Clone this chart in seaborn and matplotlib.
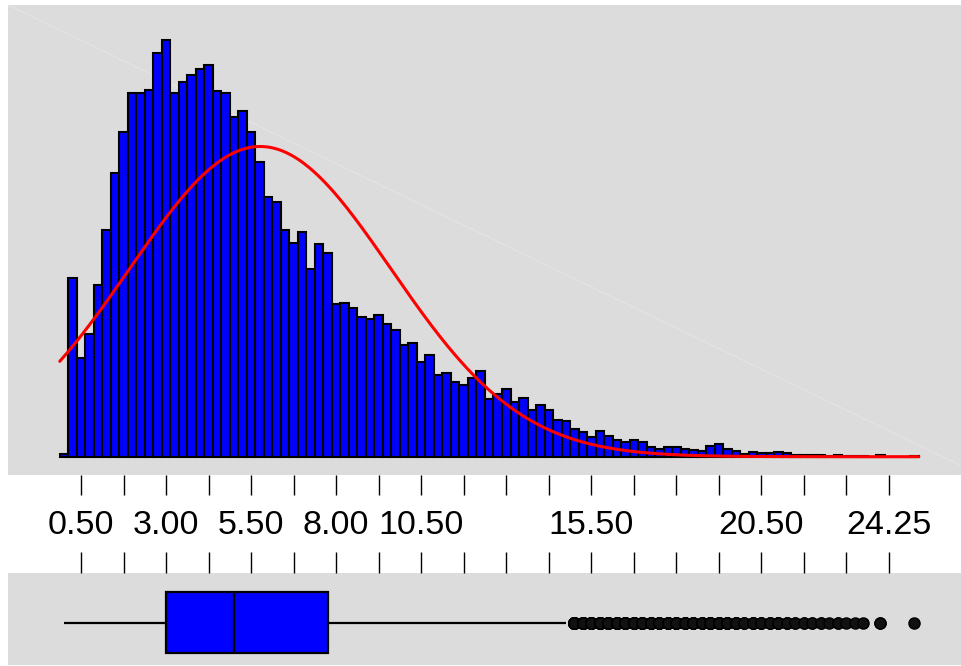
import numpy as np
import pandas as pd
import seaborn as sns
import matplotlib
matplotlib.use("Agg")
import matplotlib.pyplot as plt

# ---- data ----
bin_width = 0.25
# bin centres 0.00, 0.25, ..., 25.00
bin_centers = np.round(np.arange(0, 25.0 + 1e-9, bin_width), 2)
counts = [
    3,
    179, 99, 123, 172, 227, 284, 325, 364, 364, 367,
    404, 417, 364, 375, 382, 388, 392, 366, 364, 340,
    346, 325, 295, 260, 255, 227, 214, 225, 188, 213,
    204, 153, 154, 149, 140, 138, 142, 133, 127, 112,
    114, 95, 102, 82, 84, 75, 72, 79, 86, 58,
    63, 68, 55, 59, 47, 52, 47, 37, 36, 28,
    25, 20, 26, 21, 17, 15, 17, 15, 10, 8,
    10, 10, 8, 7, 6, 11, 13, 8, 6, 3,
    5, 4, 4, 5, 4, 2, 2, 2, 2, 1,
    2, 1, 1, 1, 0, 2, 0, 0, 0, 1,
]
tick_values = [0.50, 1.75, 3.00, 4.25, 5.50, 6.75, 8.00, 9.25, 10.50, 11.75,
               13.00, 14.25, 15.50, 16.75, 18.00, 19.25, 20.50, 21.75, 23.00, 24.25]
tick_labels = ["0.50", "", "3.00", "", "5.50", "", "8.00", "", "10.50", "",
               "", "", "15.50", "", "", "", "20.50", "", "", "24.25"]

df = pd.DataFrame({"value": bin_centers, "count": counts})
sample = np.repeat(df["value"].to_numpy(), df["count"].to_numpy())
lo_edge = float(bin_centers[0] - bin_width / 2)
hi_edge = float(bin_centers[-1] + bin_width / 2)

# ---- style ----
sns.set_theme(style="white")
plt.rcParams["font.family"] = ["Liberation Sans", "DejaVu Sans"]
panel_bg = "#DCDCDC"

W, H = 961, 666
fig = plt.figure(figsize=(W / 100, H / 100), dpi=100)
fig.patch.set_facecolor("white")
ax1 = fig.add_axes([8 / W, (H - 475) / H, (W - 8) / W, 470 / H])
ax2 = fig.add_axes([8 / W, 1 / H, (W - 8) / W, 92 / H])
xlim = (-1.646, 26.367)

# ---- histogram panel ----
ax1.set_facecolor(panel_bg)
sns.histplot(data=df, x="value", weights="count", binwidth=bin_width,
             binrange=(lo_edge, hi_edge), ax=ax1,
             color="blue", edgecolor="black", linewidth=1.5, alpha=1)
n = sample.size
mu, sd = sample.mean(), sample.std()
xs = np.linspace(lo_edge, hi_edge, 500)
ys = n * bin_width * np.exp(-0.5 * ((xs - mu) / sd) ** 2) / (sd * np.sqrt(2 * np.pi))
sns.lineplot(x=xs, y=ys, ax=ax1, color="red", linewidth=2.2)
ax1.plot([0, 1], [1, 0.02], transform=ax1.transAxes, color="white", lw=0.5,
         alpha=0.35, zorder=0.5)
ax1.set_xlim(*xlim)
ax1.set_ylim(-18.3, 451.7)
ax1.set_xticks(tick_values)
ax1.set_xticklabels(tick_labels)
ax1.set_yticks([])
ax1.set_xlabel("")
ax1.set_ylabel("")
ax1.tick_params(axis="x", bottom=True, direction="out", length=14.4, width=1.0,
                color="black", pad=10.5, labelsize=24.5, labelcolor="black")
for s in ax1.spines.values():
    s.set_visible(False)

# ---- boxplot panel ----
ax2.set_facecolor(panel_bg)
sns.boxplot(x=sample, ax=ax2, color="blue", linecolor="black", linewidth=1.6,
            width=0.6, saturation=1, showcaps=False,
            flierprops=dict(marker="o", markerfacecolor="#111111",
                            markeredgecolor="black", markersize=8.0))
ax2.set_xlim(*xlim)
ax2.set_ylim(0.418, -0.487)
ax2.set_yticks([])
ax2.set_xticks(tick_values)
ax2.xaxis.set_ticks_position("top")
ax2.tick_params(axis="x", top=True, bottom=False, labeltop=False, labelbottom=False,
                direction="out", length=15, width=1.0, color="black")
ax2.set_xlabel("")
ax2.set_ylabel("")
for s in ax2.spines.values():
    s.set_visible(False)

fig.savefig("out.png", dpi=100, facecolor="white")
